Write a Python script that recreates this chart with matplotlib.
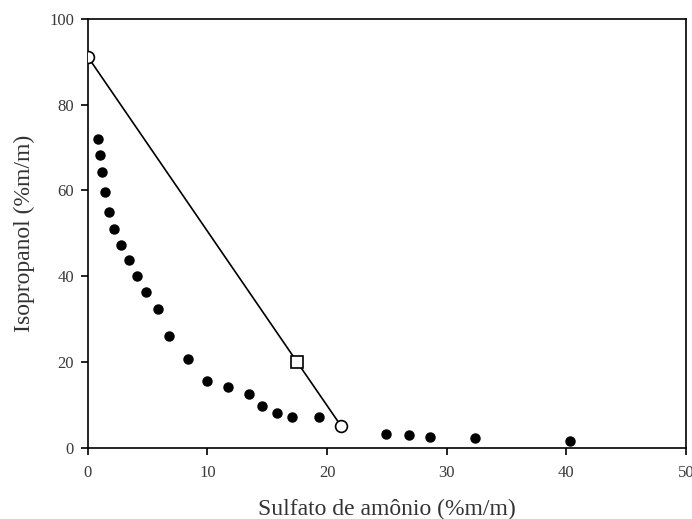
import numpy as np
import matplotlib.pyplot as plt

# curva binodal (pontos experimentais)
sulfato = [0.86, 1.0, 1.2, 1.42, 1.76, 2.2, 2.76, 3.43, 4.1, 4.88, 5.9, 6.78,
           8.35, 9.93, 11.69, 13.5, 14.56, 15.79, 17.05, 19.36,
           24.9, 26.86, 28.65, 32.4, 40.3]
isopropanol = [71.9, 68.3, 64.3, 59.6, 55.0, 51.0, 47.2, 43.7, 40.1, 36.3, 32.3, 26.0,
               20.6, 15.6, 14.1, 12.5, 9.65, 8.1, 7.3, 7.2,
               3.26, 2.96, 2.5, 2.2, 1.7]

# linha de amarracao
tie_x = [0.0, 21.2]
tie_y = [91.1, 5.0]
mix_x = [17.5]
mix_y = [20.0]

plt.rcParams['font.family'] = ['Liberation Serif', 'DejaVu Serif']

fig = plt.figure(figsize=(6.92, 5.19), dpi=100)
ax = fig.add_axes([0.127, 0.137, 0.864, 0.827])

ax.plot([tie_x[0], mix_x[0], tie_x[1]], [tie_y[0], mix_y[0], tie_y[1]],
        color='black', lw=1.2, zorder=2)
ax.plot(sulfato, isopropanol, 'o', color='black', ms=6.5, zorder=3)
ax.plot(tie_x, tie_y, 'o', mfc='white', mec='black', mew=1.2, ms=8.5, zorder=4)
ax.plot(mix_x, mix_y, 's', mfc='white', mec='black', mew=1.2, ms=8, zorder=4)

ax.set_xlim(0, 50)
ax.set_ylim(0, 100)
ax.set_xticks(np.arange(0, 51, 10))
ax.set_yticks(np.arange(0, 101, 20))
ax.tick_params(direction='out', length=5, width=1.2, labelsize=12,
               labelcolor='#3a3a3a')
ax.tick_params(axis='x', pad=7)
ax.tick_params(axis='y', pad=5)
for s in ax.spines.values():
    s.set_linewidth(1.2)

ax.set_xlabel('Sulfato de amônio (%m/m)', fontsize=17, color='#333333', labelpad=13)
ax.set_ylabel('Isopropanol (%m/m)', fontsize=17, color='#333333', labelpad=10)

fig.savefig('out.png', dpi=100)
